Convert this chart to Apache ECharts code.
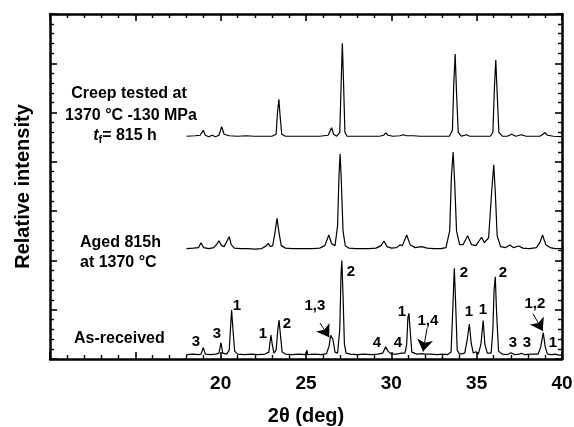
<!DOCTYPE html>
<html>
<head>
<meta charset="utf-8">
<script src="https://cdn.jsdelivr.net/npm/echarts@6/dist/echarts.min.js"></script>
<style>
html,body{margin:0;padding:0;background:#fff;}
#c{width:574px;height:427px;}
</style>
</head>
<body>
<div id="c"></div>
<script>
// 2θ (deg), relative intensity (offset traces)
var asReceived = [[18.0,0.45],[18.4,0.5],[18.7,0.45],[18.85,0.5],[18.98,1.15],[19.1,0.5],[19.4,0.45],[19.7,0.5],[19.9,0.6],[20.02,1.65],[20.12,0.6],[20.35,0.5],[20.5,0.9],[20.58,3.2],[20.64,4.97],[20.72,3.0],[20.82,0.8],[21.0,0.5],[21.4,0.45],[21.8,0.5],[22.2,0.45],[22.6,0.5],[22.82,0.7],[22.9,1.8],[22.95,2.43],[23.02,1.5],[23.12,0.6],[23.25,0.9],[23.35,3.0],[23.42,3.96],[23.5,2.5],[23.6,0.7],[23.8,0.5],[24.2,0.45],[24.6,0.5],[25.0,0.45],[25.05,0.9],[25.1,0.45],[25.5,0.5],[25.9,0.45],[26.2,0.55],[26.35,1.3],[26.45,2.4],[26.5,2.54],[26.58,2.0],[26.7,0.7],[26.85,0.6],[26.98,3.0],[27.05,8.5],[27.1,10.0],[27.17,6.5],[27.25,1.5],[27.35,0.6],[27.6,0.5],[28.0,0.45],[28.4,0.5],[28.8,0.45],[29.2,0.5],[29.5,0.6],[29.67,1.25],[29.8,0.8],[29.9,0.9],[30.0,0.5],[30.3,0.5],[30.6,0.6],[30.7,0.74],[30.8,0.6],[30.9,1.5],[30.97,4.2],[31.03,4.63],[31.1,3.0],[31.2,0.7],[31.5,0.5],[31.8,0.55],[31.87,0.7],[31.95,0.5],[32.3,0.5],[32.7,0.45],[33.0,0.5],[33.3,0.45],[33.5,0.7],[33.6,5.0],[33.69,9.2],[33.76,6.0],[33.86,0.9],[34.0,0.5],[34.3,0.6],[34.45,2.0],[34.57,3.55],[34.68,1.6],[34.8,0.6],[34.96,0.74],[35.1,0.5],[35.25,1.5],[35.38,3.89],[35.48,1.5],[35.62,0.6],[35.85,0.6],[35.95,3.0],[36.02,7.0],[36.09,8.35],[36.16,5.0],[36.28,0.8],[36.5,0.5],[36.8,0.45],[37.02,0.64],[37.2,0.45],[37.5,0.5],[37.63,0.58],[37.8,0.45],[38.2,0.5],[38.6,0.5],[38.75,1.2],[38.9,2.67],[39.02,1.2],[39.15,0.5],[39.4,0.45],[39.63,0.5],[39.8,0.4],[40,0.4]];

var aged = [[18.0,11.2],[18.4,11.25],[18.7,11.3],[18.85,11.8],[19.0,11.3],[19.3,11.2],[19.6,11.3],[19.8,11.7],[19.9,12.0],[20.05,11.5],[20.2,11.4],[20.35,11.9],[20.5,12.4],[20.62,11.6],[20.8,11.25],[21.2,11.2],[21.6,11.2],[22.0,11.15],[22.4,11.2],[22.65,11.45],[22.79,11.74],[22.9,11.4],[23.05,11.5],[23.18,12.8],[23.3,14.27],[23.42,12.8],[23.55,11.5],[23.8,11.25],[24.2,11.2],[24.6,11.2],[25.0,11.2],[25.4,11.2],[25.8,11.25],[26.1,11.5],[26.34,12.58],[26.5,11.7],[26.7,11.5],[26.85,13.5],[26.93,18.5],[27.0,20.8],[27.07,18.0],[27.17,13.0],[27.3,11.5],[27.5,11.25],[27.9,11.2],[28.3,11.2],[28.7,11.2],[29.1,11.25],[29.4,11.5],[29.57,11.97],[29.75,11.4],[30.0,11.25],[30.3,11.3],[30.5,11.57],[30.65,11.5],[30.9,12.58],[31.1,11.6],[31.4,11.3],[31.77,11.4],[32.1,11.25],[32.5,11.2],[32.9,11.2],[33.2,11.3],[33.42,13.0],[33.52,18.5],[33.62,21.0],[33.71,18.0],[33.82,13.0],[34.0,11.6],[34.2,11.6],[34.47,12.5],[34.7,11.6],[34.95,11.5],[35.29,12.35],[35.45,11.8],[35.7,12.3],[35.88,17.0],[36.0,19.7],[36.09,17.0],[36.2,12.5],[36.4,11.4],[36.7,11.3],[36.95,11.57],[37.15,11.3],[37.47,11.46],[37.7,11.25],[38.1,11.2],[38.5,11.3],[38.7,11.8],[38.86,12.58],[39.05,11.6],[39.3,11.3],[39.6,11.2],[40,11.2]];

var creep = [[18.0,22.6],[18.5,22.65],[18.8,22.7],[18.98,23.2],[19.1,22.7],[19.3,22.55],[19.5,22.7],[19.7,22.55],[19.9,22.7],[20.06,23.57],[20.2,22.8],[20.5,22.65],[21.0,22.6],[21.5,22.65],[22.0,22.6],[22.5,22.6],[23.0,22.6],[23.25,22.8],[23.33,25.0],[23.41,26.35],[23.49,24.5],[23.58,22.8],[23.8,22.6],[24.3,22.6],[24.8,22.6],[25.3,22.6],[25.8,22.6],[26.3,22.7],[26.5,23.47],[26.62,22.8],[26.8,22.6],[26.98,23.0],[27.06,28.0],[27.13,32.03],[27.2,28.0],[27.28,23.0],[27.4,22.6],[27.8,22.6],[28.3,22.6],[28.8,22.6],[29.3,22.6],[29.55,22.7],[29.68,22.95],[29.8,22.7],[29.9,22.8],[30.1,22.6],[30.5,22.65],[30.7,22.75],[30.9,22.65],[31.3,22.65],[31.7,22.6],[32.1,22.6],[32.5,22.6],[33.0,22.6],[33.4,22.6],[33.58,23.2],[33.66,28.0],[33.74,30.94],[33.82,27.0],[33.92,23.0],[34.1,22.6],[34.4,22.75],[34.6,22.6],[35.0,22.6],[35.4,22.6],[35.8,22.6],[35.95,23.0],[36.04,27.5],[36.12,30.33],[36.2,27.0],[36.3,23.0],[36.5,22.6],[36.8,22.6],[37.05,22.8],[37.3,22.6],[37.63,22.75],[37.9,22.6],[38.3,22.6],[38.7,22.6],[38.88,22.8],[39.0,22.97],[39.15,22.7],[39.5,22.6],[40,22.55]];

// phase labels on the as-received pattern: [2θ, y, text]
var peakLabels = [[18.55,1.72,'3'],[19.78,2.54,'3'],[20.95,5.38,'1'],[22.48,2.54,'1'],[23.88,3.55,'2'],[25.52,5.38,'1,3'],[27.63,8.83,'2'],[29.16,1.62,'4'],[30.39,1.62,'4'],[30.62,4.77,'1'],[32.14,3.86,'1,4'],[34.25,8.72,'2'],[34.55,4.77,'1'],[35.37,4.97,'1'],[36.54,8.72,'2'],[37.12,1.62,'3'],[37.94,1.62,'3'],[38.41,5.58,'1,2'],[39.47,1.62,'1']];

// arrows: [[x1,y1],[x2,y2]]
var arrows = [[[25.82,3.65],[26.36,2.2]],[[32.09,3.1],[31.86,0.75]],[[38.3,4.6],[38.87,2.85]]];

var xTickLabels = ['20','25','30','35','40'];

var chart = echarts.init(document.getElementById('c'), null, {renderer:'canvas'});
var FONT = '"Liberation Sans", Arial, Helvetica, sans-serif';

function xAx(pos, showLabel){
  return {
    type:'value', position:pos, min:10, max:40, interval:5,
    name: showLabel ? '2θ (deg)' : '',
    nameLocation:'middle', nameGap:47,
    nameTextStyle:{fontFamily:FONT, fontSize:20, fontWeight:'bold', color:'#000'},
    axisLine:{show:true, onZero:false, lineStyle:{color:'#000', width:2.5}},
    axisTick:{show:true, inside:true, length:7, lineStyle:{color:'#000', width:1.6}},
    minorTick:{show:true, splitNumber:5, length:4, lineStyle:{color:'#000', width:1.4}},
    splitLine:{show:false},
    axisLabel:{show:showLabel, margin:15, fontFamily:FONT, fontSize:19, fontWeight:'bold', color:'#000',
      formatter:function(v){ var s=String(v); return xTickLabels.indexOf(s)>=0 ? s : ''; }}
  };
}
function yAx(pos, showName){
  return {
    type:'value', position:pos, min:0, max:35, interval:5,
    name: showName ? 'Relative intensity' : '',
    nameLocation:'middle', nameGap:17, nameRotate:90,
    nameTextStyle:{fontFamily:FONT, fontSize:20, fontWeight:'bold', color:'#000'},
    axisLine:{show:true, onZero:false, lineStyle:{color:'#000', width:2.5}},
    axisTick:{show:true, inside:true, length:7, lineStyle:{color:'#000', width:1.6}},
    minorTick:{show:true, splitNumber:5, length:4, lineStyle:{color:'#000', width:1.4}},
    splitLine:{show:false},
    axisLabel:{show:false}
  };
}

var lineStyle = {color:'#000', width:1.2};
var tStyle = {fontFamily:FONT, fontSize:16, fontWeight:'bold', fill:'#000', textVerticalAlign:'middle'};
function txt(x, y, s, align, extra){
  var st = Object.assign({}, tStyle, {text:s, textAlign:align}, extra||{});
  return {type:'text', x:x, y:y, style:st};
}
var option = {
  animation:false,
  backgroundColor:'#fff',
  grid:{left:50, right:12, top:14, bottom:68, containLabel:false, outerBoundsMode:'none'},
  xAxis:[xAx('bottom', true), xAx('top', false)],
  yAxis:[yAx('left', true), yAx('right', false)],
  series:[
    {type:'line', data:asReceived, showSymbol:false, symbol:'none', lineStyle:lineStyle, silent:true},
    {type:'line', data:aged, showSymbol:false, symbol:'none', lineStyle:lineStyle, silent:true},
    {type:'line', data:creep, showSymbol:false, symbol:'none', lineStyle:lineStyle, silent:true},
    {type:'scatter', data:peakLabels, symbolSize:1, itemStyle:{color:'rgba(0,0,0,0)', opacity:1}, silent:true,
      label:{show:true, position:'inside', opacity:1, fontFamily:FONT, fontSize:15, fontWeight:'bold', color:'#000',
        formatter:function(p){return p.data[2];}}},
    {type:'lines', coordinateSystem:'cartesian2d', silent:true,
      data:arrows.map(function(a){return {coords:a};}),
      symbol:['none','arrow'], symbolSize:[1,12],
      lineStyle:{color:'#000', width:1, opacity:1}}
  ],
  graphic:[
    txt(129, 94, 'Creep tested at', 'center'),
    txt(131, 116, '1370 °C -130 MPa', 'center'),
    txt(125, 136, '{i|t}{s|f}= 815 h', 'center', {rich:{i:{fontStyle:'italic', fontWeight:'bold', fontFamily:FONT, fontSize:16, fill:'#000'}, s:{fontFamily:FONT, fontWeight:'bold', fontSize:11, fill:'#000', padding:[7,0,0,0]}}}),
    txt(80, 243, 'Aged 815h', 'left'),
    txt(80, 263, 'at 1370 °C', 'left'),
    txt(74, 339, 'As-received', 'left')
  ]
};
chart.setOption(option);
</script>
</body>
</html>
